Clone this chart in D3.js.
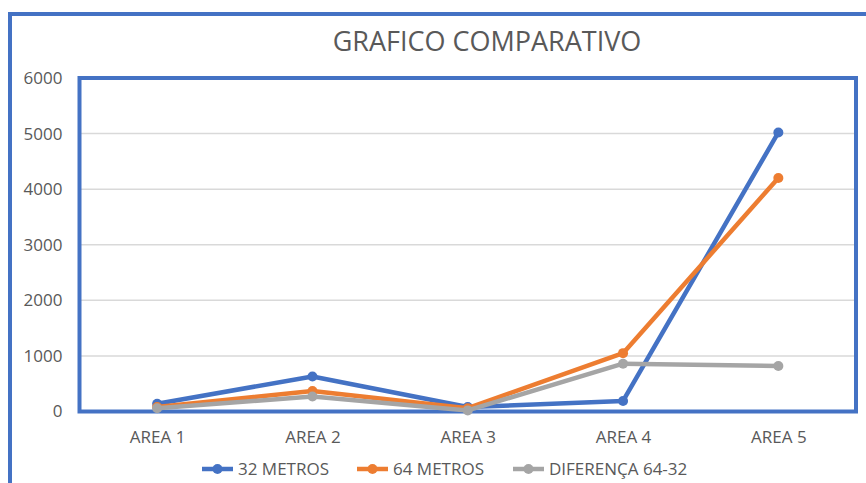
<!DOCTYPE html>
<html>
<head>
<meta charset="utf-8">
<script src="https://cdn.jsdelivr.net/npm/d3@7"></script>
<style>
  body { margin: 0; background: #fff; }
  text { font-family: "Open Sans", sans-serif; fill: #595959; }
</style>
</head>
<body>
<div class="chart"></div>
<script>
const categories = ['AREA 1', 'AREA 2', 'AREA 3', 'AREA 4', 'AREA 5'];
const metros32 = [140, 630, 80, 190, 5020];
const metros64 = [80, 370, 60, 1050, 4200];
const diferenca = [60, 270, 20, 860, 820];
const yTicks = [0, 1000, 2000, 3000, 4000, 5000, 6000];

const series = [
    {name: '32 METROS', values: metros32, color: '#4472C4'},
    {name: '64 METROS', values: metros64, color: '#ED7D31'},
    {name: 'DIFERENÇA 64-32', values: diferenca, color: '#A5A5A5'}
];

const W = 866, H = 483;
const plot = {left: 79.5, right: 856, top: 78, bottom: 411.5};

const svg = d3.select('.chart')
    .append('svg')
    .attr('width', W)
    .attr('height', H);

// outer chart border (cut off at right and bottom)
svg.append('rect')
    .attr('x', 10).attr('y', 14)
    .attr('width', 1000).attr('height', 1000)
    .attr('fill', 'none')
    .attr('stroke', '#4472C4')
    .attr('stroke-width', 4);

svg.append('text')
    .attr('x', 487)
    .attr('y', 51)
    .attr('text-anchor', 'middle')
    .style('font-size', '27px')
    .text('GRAFICO COMPARATIVO');

const xScale = d3.scalePoint()
    .domain(categories)
    .range([plot.left, plot.right])
    .padding(0.5);

const yScale = d3.scaleLinear()
    .domain([0, 6000])
    .range([plot.bottom, plot.top]);

// gridlines
svg.append('g')
    .selectAll('line')
    .data(yTicks.slice(1, -1))
    .enter()
    .append('line')
    .attr('x1', plot.left).attr('x2', plot.right)
    .attr('y1', d => yScale(d)).attr('y2', d => yScale(d))
    .attr('stroke', '#d9d9d9')
    .attr('stroke-width', 1.5);

const yAxis = d3.axisLeft(yScale)
    .tickValues(yTicks)
    .tickFormat(d3.format('d'))
    .tickSize(0)
    .tickPadding(17);

svg.append('g')
    .attr('transform', `translate(${plot.left},0)`)
    .call(yAxis)
    .call(g => g.select('.domain').remove())
    .call(g => g.selectAll('text')
        .style('font-size', '17px')
        .attr('fill', '#595959')
        .attr('font-family', null));

const xAxis = d3.axisBottom(xScale)
    .tickSize(0)
    .tickPadding(19);

svg.append('g')
    .attr('transform', `translate(0,${plot.bottom})`)
    .call(xAxis)
    .call(g => g.select('.domain').remove())
    .call(g => g.selectAll('text')
        .style('font-size', '17px')
        .attr('fill', '#595959')
        .attr('font-family', null));

// plot area border
svg.append('rect')
    .attr('x', plot.left).attr('y', plot.top)
    .attr('width', plot.right - plot.left)
    .attr('height', plot.bottom - plot.top)
    .attr('fill', 'none')
    .attr('stroke', '#4472C4')
    .attr('stroke-width', 4);

const line = d3.line()
    .x((d, i) => xScale(categories[i]))
    .y(d => yScale(d));

series.forEach(s => {
    svg.append('path')
        .datum(s.values)
        .attr('d', line)
        .attr('fill', 'none')
        .attr('stroke', s.color)
        .attr('stroke-width', 4.5)
        .attr('stroke-linejoin', 'round');

    svg.append('g')
        .selectAll('circle')
        .data(s.values)
        .enter()
        .append('circle')
        .attr('cx', (d, i) => xScale(categories[i]))
        .attr('cy', d => yScale(d))
        .attr('r', 5)
        .attr('fill', s.color);
});

// legend
const legendX = [202, 357, 513];
const legend = svg.append('g')
    .selectAll('g')
    .data(series)
    .enter()
    .append('g')
    .attr('transform', (d, i) => `translate(${legendX[i]},469)`);

legend.append('line')
    .attr('x1', 0).attr('x2', 31)
    .attr('stroke', d => d.color)
    .attr('stroke-width', 4.5);

legend.append('circle')
    .attr('cx', 15.5)
    .attr('r', 5)
    .attr('fill', d => d.color);

legend.append('text')
    .attr('x', 36)
    .attr('dy', '0.35em')
    .style('font-size', '17px')
    .text(d => d.name);
</script>
</body>
</html>
